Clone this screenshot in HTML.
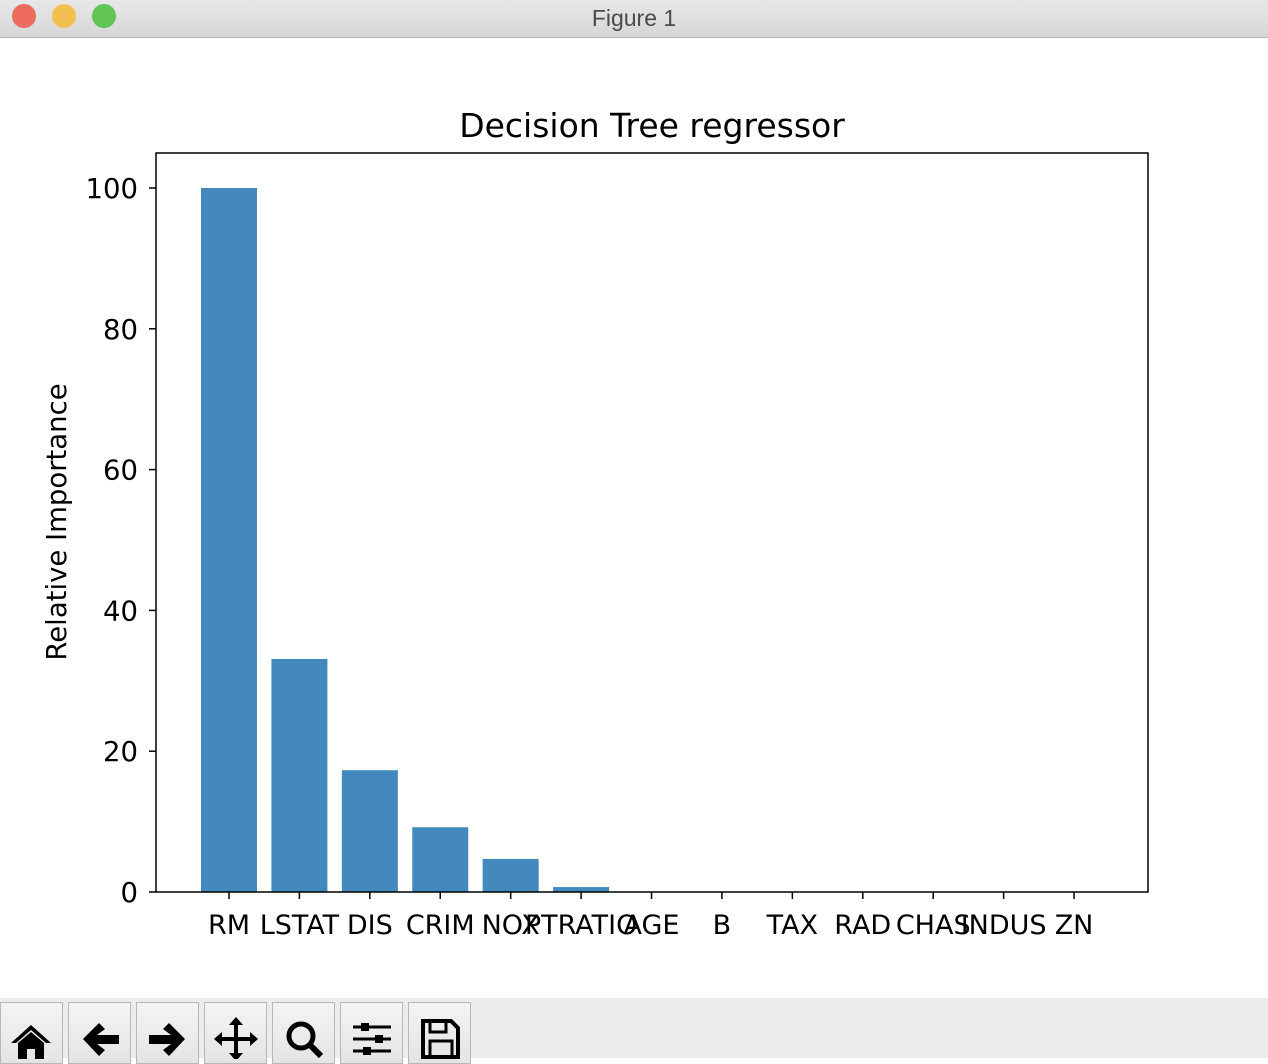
<!DOCTYPE html>
<html><head><meta charset="utf-8"><style>
html,body{margin:0;padding:0;width:1268px;height:1058px;overflow:hidden;background:#fff;font-family:"DejaVu Sans","Liberation Sans",sans-serif}
#titlebar{position:absolute;left:0;top:0;width:1268px;height:37px;background:linear-gradient(#e8e8e8,#d6d6d6);border-bottom:1px solid #b8b8b8;}
#titlebar .t{position:absolute;width:100%;text-align:center;top:5px;font-size:23px;color:#4a4a4a;font-family:"Liberation Sans",sans-serif}
.dot{position:absolute;top:4px;width:24px;height:24px;border-radius:50%}
#toolbar{position:absolute;left:0;top:998px;width:1268px;height:60px;background:#ececec}
.btn{position:absolute;top:4px;width:61px;height:60px;border:1px solid #b8b8b8;background:linear-gradient(#f4f4f4,#e4e4e4)}
text{font-family:"DejaVu Sans",sans-serif}
</style></head><body>
<div id="titlebar">
<div class="dot" style="left:12px;background:#ec6a5e"></div>
<div class="dot" style="left:52px;background:#f5bf4f"></div>
<div class="dot" style="left:92px;background:#61c554"></div>
<div class="t">Figure 1</div>
</div>
<svg id="chart" width="1268" height="960" style="position:absolute;left:0;top:38px">
<g transform="translate(0,-38)" id="g"></g>
</svg>
<div id="toolbar">
<div class="btn" style="left:0"><svg width="61" height="56"><path d="M10 40 L30 22 L50 40 L45 40 L30 27 L15 40Z M17 40 L30 29 L43 40 L43 56 L34 56 L34 46 L26 46 L26 56 L17 56Z" fill="#000"/></svg></div>
<div class="btn" style="left:68px"><svg width="61" height="56"><path d="M14 36 L30 20 L36 26 L28 32 L50 32 L50 41 L28 41 L36 47 L30 53Z" fill="#000"/></svg></div>
<div class="btn" style="left:136px"><svg width="61" height="56"><path d="M48 36 L32 20 L26 26 L34 32 L12 32 L12 41 L34 41 L26 47 L32 53Z" fill="#000"/></svg></div>
<div class="btn" style="left:204px"><svg width="61" height="56"><path d="M31 14 L38 22 L33 22 L33 34 L45 34 L45 29 L53 36 L45 43 L45 38 L33 38 L33 50 L38 50 L31 58 L24 50 L29 50 L29 38 L17 38 L17 43 L9 36 L17 29 L17 34 L29 34 L29 22 L24 22Z" fill="#000"/></svg></div>
<div class="btn" style="left:272px"><svg width="61" height="56"><circle cx="28" cy="33" r="12" fill="none" stroke="#000" stroke-width="5"/><path d="M37 42 L48 53" stroke="#000" stroke-width="6"/></svg></div>
<div class="btn" style="left:340px"><svg width="61" height="56"><g stroke="#000" stroke-width="3"><path d="M12 24H50M12 36H50M12 48H50"/></g><rect x="20" y="20" width="8" height="8" fill="#000"/><rect x="34" y="32" width="8" height="8" fill="#000"/><rect x="22" y="44" width="8" height="8" fill="#000"/></svg></div>
<div class="btn" style="left:408px"><svg width="61" height="56"><path d="M14 18 H42 L49 25 V54 H14Z" fill="none" stroke="#000" stroke-width="4"/><rect x="21" y="18" width="16" height="11" fill="none" stroke="#000" stroke-width="3"/><rect x="21" y="38" width="22" height="16" fill="none" stroke="#000" stroke-width="3"/></svg></div>
</div>
<script>
const categories=["RM","LSTAT","DIS","CRIM","NOX","PTRATIO","AGE","B","TAX","RAD","CHAS","INDUS","ZN"];
const values=[100,33.1,17.3,9.2,4.7,0.7,0,0,0,0,0,0,0];
const yTicks=[0,20,40,60,80,100];
const NS="http://www.w3.org/2000/svg";
const g=document.getElementById('g');
const L=156,R=1148,T=153,B=892;
const x0=229,step=70.42,bw=56;
function xs(i){return x0+i*step;}
function ys(v){return B-v*7.04;}
function mk(tag,attrs,txt){const e=document.createElementNS(NS,tag);for(const k in attrs)e.setAttribute(k,attrs[k]);if(txt!==undefined)e.textContent=txt;g.appendChild(e);return e;}
values.forEach((v,i)=>{
 const r=mk('rect',{x:xs(i)-bw/2,y:ys(v),width:bw,height:B-ys(v),fill:'#4389be'});
 
 
 const tk=mk('line',{x1:xs(i),x2:xs(i),y1:B,y2:B+7,stroke:'#000','stroke-width':1.5});
 
 
 const t=mk('text',{x:xs(i),y:B+42,'text-anchor':'middle','font-size':27,fill:'#000'},categories[i]);
 
 
});
yTicks.forEach(v=>{
 const tk=mk('line',{x1:L-7,x2:L,y1:ys(v),y2:ys(v),stroke:'#000','stroke-width':1.5});
 
 
 const t=mk('text',{x:L-18,y:ys(v)+10,'text-anchor':'end','font-size':27.5,fill:'#000'},String(v));
 
 
});
const fr=mk('rect',{x:L,y:T,width:R-L,height:B-T,fill:'none',stroke:'#000','stroke-width':1.5});


const tt=mk('text',{x:(L+R)/2,y:137,'text-anchor':'middle','font-size':33,fill:'#000'},'Decision Tree regressor');


const yl=mk('text',{x:0,y:0,'text-anchor':'middle','font-size':27.5,fill:'#000',transform:'translate(66,522) rotate(-90)'},'Relative Importance');


</script>
</body></html>
